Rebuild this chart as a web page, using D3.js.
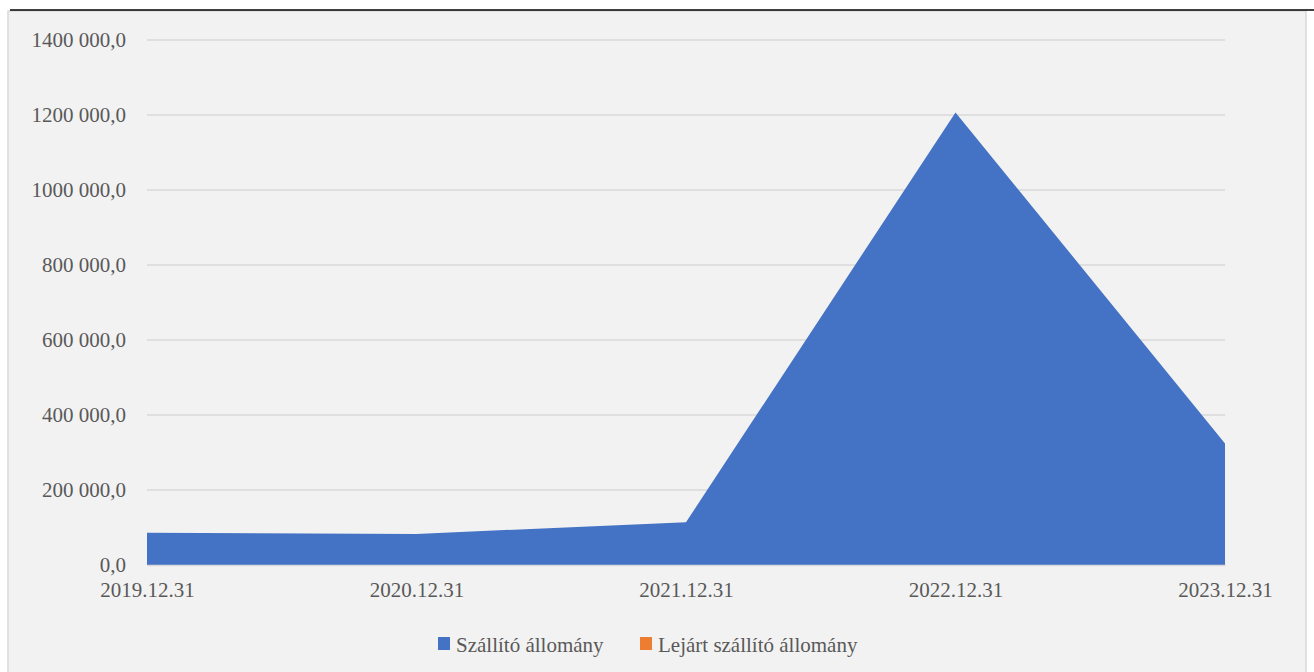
<!DOCTYPE html>
<html>
<head>
<meta charset="utf-8">
<script src="https://cdn.jsdelivr.net/npm/d3@7"></script>
<style>
  body { margin: 0; background: #fff; }
  svg text { font-family: "Liberation Serif", "DejaVu Serif", serif; }
</style>
</head>
<body>
<script>
const width = 1314;
const height = 672;

// data
const dates = ["2019.12.31", "2020.12.31", "2021.12.31", "2022.12.31", "2023.12.31"];
const szallito = [86000, 83000, 114000, 1207000, 324000];
const lejart = [0, 0, 0, 0, 0];
const seriesNames = ["Szállító állomány", "Lejárt szállító állomány"];
const seriesColors = ["#4472c4", "#ed7d31"];
const yTicks = [0, 200000, 400000, 600000, 800000, 1000000, 1200000, 1400000];

const svg = d3.select("body").append("svg")
  .attr("width", width)
  .attr("height", height);

// chart frame
svg.append("rect")
  .attr("x", 8).attr("y", 11)
  .attr("width", 1298).attr("height", 670)
  .attr("fill", "#f2f2f2")
  .attr("stroke", "#d9d9d9")
  .attr("stroke-width", 1.5);

// black rule at top (from the page above)
svg.append("line")
  .attr("x1", 10).attr("x2", width)
  .attr("y1", 10).attr("y2", 10)
  .attr("stroke", "#000").attr("stroke-width", 1.5);

const x = d3.scalePoint().domain(dates).range([147, 1225]);
const y = d3.scaleLinear().domain([0, 1400000]).range([565, 40]);

// "1400 000,0" style: only last thousands group separated
const fmt = v => {
  const whole = Math.round(v);
  let s = String(whole);
  if (whole >= 1000) s = s.slice(0, -3) + " " + s.slice(-3);
  return s + ",0";
};

// gridlines
svg.append("g")
  .selectAll("line")
  .data(yTicks.slice(1))
  .join("line")
  .attr("x1", 147).attr("x2", 1225)
  .attr("y1", d => y(d)).attr("y2", d => y(d))
  .attr("stroke", "#d9d9d9").attr("stroke-width", 1.5);

// y axis
const yAxis = svg.append("g")
  .attr("transform", "translate(140,0)")
  .call(d3.axisLeft(y).tickValues(yTicks).tickFormat(fmt).tickSize(0).tickPadding(14));
yAxis.attr("font-family", null).attr("font-size", null);
yAxis.select(".domain").remove();
yAxis.selectAll("text")
  .attr("fill", "#595959")
  .style("font-size", "21px");

// areas
const area = d3.area()
  .x((d, i) => x(dates[i]))
  .y0(y(0))
  .y1(d => y(d));

svg.append("path")
  .datum(lejart)
  .attr("d", area)
  .attr("fill", seriesColors[1]);

svg.append("path")
  .datum(szallito)
  .attr("d", area)
  .attr("fill", seriesColors[0]);

// x axis
const xAxis = svg.append("g")
  .attr("transform", "translate(0," + y(0) + ")")
  .call(d3.axisBottom(x).tickSize(0).tickPadding(17));
xAxis.attr("font-family", null).attr("font-size", null);
xAxis.select(".domain")
  .attr("stroke", "#d9d9d9").attr("stroke-width", 1.5);
xAxis.selectAll("text")
  .attr("fill", "#595959")
  .style("font-size", "21px");

// legend
const legendX = [438, 640];
const legend = svg.append("g");
seriesNames.forEach((name, i) => {
  legend.append("rect")
    .attr("x", legendX[i]).attr("y", 637)
    .attr("width", 12).attr("height", 13)
    .attr("fill", seriesColors[i]);
  legend.append("text")
    .attr("x", legendX[i] + 18).attr("y", 652)
    .attr("fill", "#595959")
    .style("font-size", "21px")
    .text(name);
});
</script>
</body>
</html>
